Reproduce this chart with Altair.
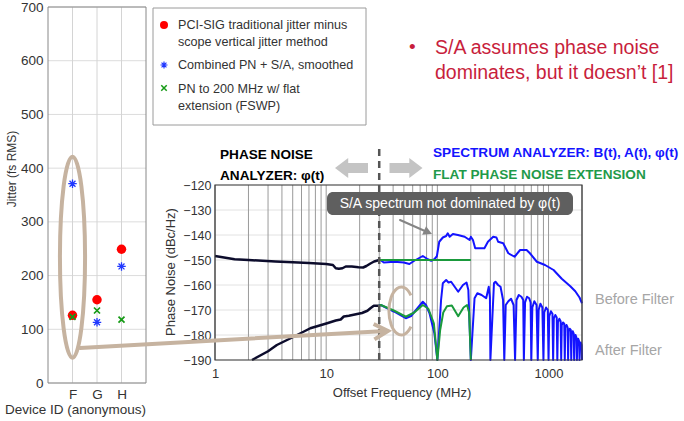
import altair as alt
import pandas as pd

# ---------------- data ----------------
DEVICES = ["F", "G", "H"]
DEVICE_POS = [1, 2, 3]
PCI_SIG_JITTER = [126, 155, 249]
COMBINED_PN_SA = [371, 113, 217]
PN_FLAT_EXT = [123, 135, 118]
JITTER_TICKS = [0, 100, 200, 300, 400, 500, 600, 700]

PN_BEFORE_F = [1, 1.5, 2, 3.5, 5, 7, 10, 11.5, 12.2, 13, 14, 15, 17, 19.5, 21.5, 23, 25, 27, 30]
PN_BEFORE_V = [-148.4, -149.7, -150.0, -150.6, -150.9, -151.2, -151.6, -152.0, -153.3, -153.5,
               -153.3, -152.6, -152.6, -152.9, -153.0, -152.4, -151.4, -150.6, -150.0]

PN_AFTER_F = [2.15, 3, 3.6, 5.1, 7.2, 10.2, 12.2, 13.5, 14.4, 16, 19, 21, 23.5, 25, 26.8, 30]
PN_AFTER_V = [-190, -186.5, -184, -180.7, -177.3, -175.3, -174.2, -173.8, -172.6, -172.3,
              -171.6, -171.2, -170.3, -169.3, -168.3, -168.3]

SA_BEFORE_F = [30, 33, 41, 50, 56, 62, 74, 82, 88, 94,
               99, 104, 112, 120, 124, 129, 138, 153, 176, 195,
               200, 209, 219, 265, 285, 318, 340, 352, 391, 435,
               495, 555, 635, 680, 785, 930, 1110, 1315, 1570, 1740,
               1900, 2000]
SA_BEFORE_V = [-149.7, -151.0, -150.7, -151.0, -151.6, -150.3, -148.4, -149.7, -150.3, -149.7,
               -148.5, -142.7, -141.0, -140.4, -139.3, -140.7, -139.6, -140.0, -140.7, -142.0,
               -140.7, -142.0, -145.3, -145.3, -142.7, -140.7, -141.0, -142.7, -143.3, -147.3,
               -148.7, -146.0, -146.0, -147.3, -150.7, -152.0, -154.0, -157.5, -160.5, -162.5,
               -165.0, -167.3]

SA_AFTER_F = [30, 31, 41, 52, 58, 74, 79, 85, 94, 100,
              108, 112, 120, 126, 133, 154, 170, 183, 190, 200,
              216, 229, 250, 275, 290, 297, 300,
              323, 333, 352, 370, 390, 400,
              412, 435, 460, 485, 500,
              515, 540, 570, 592, 600,
              615, 640, 670, 690, 700,
              715, 745, 780, 800,
              815, 845, 880, 900,
              915, 950, 985, 1000,
              1015, 1050, 1085, 1100,
              1115, 1150, 1185, 1200,
              1215, 1250, 1285, 1300,
              1315, 1350, 1385, 1400,
              1415, 1450, 1485, 1500,
              1515, 1550, 1585, 1600,
              1615, 1650, 1685, 1700,
              1715, 1750, 1785, 1800,
              1815, 1850, 1885, 1900,
              1915, 1950, 1985, 2000]
SA_AFTER_V = [-168.3, -168.0, -170.7, -173.3, -172.4, -166.7, -168.0, -171.3, -179.3, -190,
              -166.0, -159.3, -158.0, -159.0, -158.7, -162.7, -160.0, -159.0, -162.0, -190,
              -165.3, -163.3, -164.0, -165.3, -160.7, -165.0, -190,
              -159.3, -158.7, -160.0, -160.7, -166.0, -190,
              -168.0, -166.5, -165.5, -168.0, -190,
              -166.0, -164.0, -164.7, -166.0, -190,
              -167.0, -164.7, -165.3, -167.0, -190,
              -169.0, -166.5, -168.0, -190,
              -170.0, -167.5, -169.0, -190,
              -171.0, -169.0, -170.0, -190,
              -172.5, -170.5, -171.5, -190,
              -173.5, -172.0, -173.0, -190,
              -175.0, -173.5, -174.5, -190,
              -176.0, -175.0, -175.5, -190,
              -177.0, -176.0, -177.0, -190,
              -178.5, -177.5, -178.0, -190,
              -179.5, -178.5, -179.5, -190,
              -181.0, -180.0, -181.0, -190,
              -182.0, -181.5, -182.5, -190,
              -183.5, -183.0, -184.0, -190]

FLAT_BEFORE_F = [30, 200]
FLAT_BEFORE_V = [-150, -150]
FLAT_AFTER_F = [30, 31, 41, 52, 62, 74, 83, 93, 100, 106, 113, 122, 135, 154, 172, 185, 193, 200]
FLAT_AFTER_V = [-168.3, -168.0, -170.3, -172.7, -171.0, -168.0, -169.5, -175.3, -190, -178.0,
                -171.0, -168.5, -168.2, -172.5, -169.0, -168.0, -171.0, -190]

FREQ_GRID = [1, 2, 3, 4, 5, 6, 7, 8, 9, 10, 20, 30, 40, 50, 60, 70, 80, 90,
             100, 200, 300, 400, 500, 600, 700, 800, 900, 1000, 2000]
FREQ_LABELS = [1, 10, 100, 1000]
PN_TICKS = [-190, -180, -170, -160, -150, -140, -130, -120]
SPLIT_FREQ = 30

# ---------------- styles ----------------
FONT = "Liberation Sans"
TAN = "#c6b3a0"
BLUE = "#1414ff"
GREEN = "#1a9a3c"
DARK = "#0c0c2c"

LX = alt.Scale(domain=[0, 4], range=[48, 146], nice=False, zero=False)
LY = alt.Scale(domain=[0, 700], range=[383, 7], nice=False, zero=False)
RX = alt.Scale(type="log", domain=[1, 2000], range=[215, 582], nice=False)
RY = alt.Scale(domain=[-190, -120], range=[360, 185], nice=False, zero=False)

ONE = pd.DataFrame({"t": [""]})


def txt(s, x, y, size, color="#333333", weight="normal", align="left", angle=0):
    return alt.Chart(pd.DataFrame({"t": [s]})).mark_text(
        align=align, baseline="middle", font=FONT, fontSize=size, color=color,
        fontWeight=weight, angle=angle
    ).encode(x=alt.value(x), y=alt.value(y), text="t:N")


def sym(shape, x, y, size, color, filled, sw=1.0, angle=0):
    return alt.Chart(ONE).mark_point(
        shape=shape, size=size, color=color, filled=filled, strokeWidth=sw,
        opacity=1, angle=angle
    ).encode(x=alt.value(x), y=alt.value(y))


def seg(x1, y1, x2, y2, color, sw, dash=None):
    kw = dict(color=color, strokeWidth=sw, strokeCap="round")
    if dash:
        kw["strokeDash"] = dash
    return alt.Chart(ONE).mark_rule(**kw).encode(
        x=alt.value(x1), y=alt.value(y1), x2=alt.value(x2), y2=alt.value(y2))


ASTERISK = "M -1 0 L 1 0 M 0 -1 L 0 1 M -0.7 -0.7 L 0.7 0.7 M -0.7 0.7 L 0.7 -0.7"
XMARK = "M -1 -1 L 1 1 M -1 1 L 1 -1"
ELLIPSE = "M -0.125 0 A 0.125 1 0 1 0 0.125 0 A 0.125 1 0 1 0 -0.125 0"
CSHAPE = "M 0.395 -0.65 A 0.52 1 0 1 0 0.395 0.65"
LEFT_ARROW = "M -1 0 L -0.2 -0.6 L -0.2 -0.3 L 1 -0.3 L 1 0.3 L -0.2 0.3 L -0.2 0.6 Z"
RIGHT_ARROW = "M 1 0 L 0.2 -0.6 L 0.2 -0.3 L -1 -0.3 L -1 0.3 L 0.2 0.3 L 0.2 0.6 Z"
TRIANGLE = "M 0 0 L -1 -0.55 L -1 0.55 Z"
CHEVRON = "M -1 -0.55 L 0 0 L -1 0.55"

axis_common = dict(grid=False, domain=False, ticks=False, labelFont=FONT, labelColor="#333333",
                   labelFlush=False, labelOverlap=False, title=None)

# ---------------- left chart ----------------
l_hgrid = alt.Chart(pd.DataFrame({"v": JITTER_TICKS, "x0": 0, "x1": 4})).mark_rule(
    color="#dcdcdc", strokeWidth=1).encode(
    x=alt.X("x0:Q", scale=LX, axis=None), x2="x1:Q",
    y=alt.Y("v:Q", scale=LY, axis=alt.Axis(orient="left", offset=-48, values=JITTER_TICKS,
                                            labelPadding=5, labelFontSize=13.5, **axis_common)))

label_expr = "[" + ",".join("'%s'" % d for d in DEVICES) + "][datum.value - 1]"
l_vgrid = alt.Chart(pd.DataFrame({"p": DEVICE_POS, "y0": 0, "y1": 700})).mark_rule(
    color="#d4d4d4", strokeWidth=1).encode(
    x=alt.X("p:Q", scale=LX, axis=alt.Axis(orient="bottom", offset=-38, values=DEVICE_POS,
                                            labelExpr=label_expr, labelPadding=4,
                                            labelFontSize=13.5, **axis_common)),
    y=alt.Y("y0:Q", scale=LY, axis=None), y2="y1:Q")

l_frame = alt.Chart(pd.DataFrame({"x0": [0], "x1": [4], "y0": [0], "y1": [700]})).mark_rect(
    fillOpacity=0, stroke="#888888", strokeWidth=1).encode(
    x=alt.X("x0:Q", scale=LX, axis=None), x2="x1:Q",
    y=alt.Y("y0:Q", scale=LY, axis=None), y2="y1:Q")

pts = pd.DataFrame({"pos": DEVICE_POS, "pci": PCI_SIG_JITTER, "comb": COMBINED_PN_SA,
                    "flat": PN_FLAT_EXT})
lxe = alt.X("pos:Q", scale=LX, axis=None)
red_pts = alt.Chart(pts).mark_point(shape="circle", filled=True, color="#ff0000", size=90,
                                    opacity=1).encode(x=lxe, y=alt.Y("pci:Q", scale=LY, axis=None))
blue_pts = alt.Chart(pts).mark_point(shape=ASTERISK, filled=False, color="#2038ff", size=72,
                                     strokeWidth=1.3, opacity=1).encode(
    x=lxe, y=alt.Y("comb:Q", scale=LY, axis=None))
green_pts = alt.Chart(pts).mark_point(shape=XMARK, filled=False, color="#159a15", size=36,
                                      strokeWidth=1.7, opacity=1).encode(
    x=lxe, y=alt.Y("flat:Q", scale=LY, axis=None))

ellipse = alt.Chart(pd.DataFrame({"x": [1], "y": [234]})).mark_point(
    shape=ELLIPSE, filled=False, size=40401, color=TAN, strokeWidth=4, opacity=1).encode(
    x=alt.X("x:Q", scale=LX, axis=None), y=alt.Y("y:Q", scale=LY, axis=None))

# legend box
legend_box = alt.Chart(ONE).mark_rect(fill="white", stroke="#9a9a9a", strokeWidth=1).encode(
    x=alt.value(153), x2=alt.value(366), y=alt.value(8), y2=alt.value(125))
LEG_FS = 12.6
legend = [
    legend_box,
    sym("circle", 164, 25, 64, "#ff0000", True),
    sym(ASTERISK, 164, 65, 49, "#2038ff", False, 1.2),
    sym(XMARK, 164, 88, 30, "#159a15", False, 1.5),
    txt("PCI-SIG traditional jitter minus", 178, 25, LEG_FS),
    txt("scope vertical jitter method", 178, 42, LEG_FS),
    txt("Combined PN + S/A, smoothed", 178, 65, LEG_FS),
    txt("PN to 200 MHz w/ flat", 178, 89, LEG_FS),
    txt("extension (FSWP)", 178, 106, LEG_FS),
]

RED_TXT = "#c81e3c"
bullet = [
    txt("•", 409, 47, 19, RED_TXT),
    txt("S/A assumes phase noise", 435, 48, 19.5, RED_TXT),
    txt("dominates, but it doesn\u2019t [1]", 435, 73, 19.5, RED_TXT),
]

# ---------------- right chart ----------------
r_hgrid = alt.Chart(pd.DataFrame({"v": PN_TICKS, "x0": 1, "x1": 2000})).mark_rule(
    color="#e2e2e2", strokeWidth=1).encode(
    x=alt.X("x0:Q", scale=RX, axis=None), x2="x1:Q",
    y=alt.Y("v:Q", scale=RY, axis=alt.Axis(orient="left", offset=-215, values=PN_TICKS,
                                            labelPadding=4, labelFontSize=12.5, **axis_common)))

r_vgrid = alt.Chart(pd.DataFrame({"f": FREQ_GRID, "y0": -190, "y1": -120})).mark_rule(
    color="#9a9a9a", strokeWidth=1).encode(
    x=alt.X("f:Q", scale=RX, axis=alt.Axis(orient="bottom", offset=-61, values=FREQ_LABELS,
                                            format="d", labelPadding=7, labelFontSize=13,
                                            **axis_common)),
    y=alt.Y("y0:Q", scale=RY, axis=None), y2="y1:Q")

r_frame = alt.Chart(pd.DataFrame({"x0": [1], "x1": [2000], "y0": [-190], "y1": [-120]})).mark_rect(
    fillOpacity=0, stroke="#3a3a3a", strokeWidth=1.2).encode(
    x=alt.X("x0:Q", scale=RX, axis=None), x2="x1:Q",
    y=alt.Y("y0:Q", scale=RY, axis=None), y2="y1:Q")


def curve(F, V, color, width):
    return alt.Chart(pd.DataFrame({"f": F, "v": V})).mark_line(
        color=color, strokeWidth=width, strokeJoin="round").encode(
        x=alt.X("f:Q", scale=RX, axis=None), y=alt.Y("v:Q", scale=RY, axis=None))


curves = [
    curve(SA_BEFORE_F, SA_BEFORE_V, BLUE, 2),
    curve(SA_AFTER_F, SA_AFTER_V, BLUE, 2),
    curve(FLAT_BEFORE_F, FLAT_BEFORE_V, GREEN, 2),
    curve(FLAT_AFTER_F, FLAT_AFTER_V, GREEN, 2),
    curve(PN_BEFORE_F, PN_BEFORE_V, DARK, 2.5),
    curve(PN_AFTER_F, PN_AFTER_V, DARK, 2.5),
]

split = alt.Chart(pd.DataFrame({"f": [SPLIT_FREQ], "y0": [-190], "y1": [-105.2]})).mark_rule(
    color="#555555", strokeWidth=2.5, strokeDash=[7, 5]).encode(
    x=alt.X("f:Q", scale=RX, axis=None),
    y=alt.Y("y0:Q", scale=RY, axis=None), y2="y1:Q")

cshape = alt.Chart(pd.DataFrame({"f": [47.5], "v": [-170.4]})).mark_point(
    shape=CSHAPE, filled=False, size=2304, color=TAN, strokeWidth=3, opacity=1).encode(
    x=alt.X("f:Q", scale=RX, axis=None), y=alt.Y("v:Q", scale=RY, axis=None))

annot = [
    txt("PHASE NOISE", 220, 155, 13.6, "#000000", "bold"),
    txt("ANALYZER: \u03c6(t)", 220, 176, 13.6, "#000000", "bold"),
    txt("SPECTRUM ANALYZER: B(t), A(t), \u03c6(t)", 433, 153, 13.6, BLUE, "bold"),
    txt("FLAT PHASE NOISE EXTENSION", 433, 175, 13.6, "#1f9a4a", "bold"),
    sym(LEFT_ARROW, 351.5, 168, 1089, "#c4c4c4", True),
    sym(RIGHT_ARROW, 406, 168, 1089, "#c4c4c4", True),
    alt.Chart(ONE).mark_rect(color="#5f5f5f", cornerRadius=6).encode(
        x=alt.value(327), x2=alt.value(573), y=alt.value(192), y2=alt.value(215)),
    txt("S/A spectrum not dominated by \u03c6(t)", 450, 204, 14, "#ffffff", align="center"),
    seg(400, 220, 426, 231.5, "#858585", 2),
    sym(TRIANGLE, 432, 234, 300, "#858585", True, angle=24),
    cshape,
    seg(80, 348, 386, 331, TAN, 4),
    sym(CHEVRON, 388, 331, 784, TAN, False, 4, angle=357),
    txt("Before Filter", 595, 300, 14.5, "#a6a6a6"),
    txt("After Filter", 595, 351, 14.5, "#a6a6a6"),
    txt("Jitter (fs RMS)", 12, 169, 12, "#333333", align="center", angle=270),
    txt("Device ID (anonymous)", 75.5, 410, 13.5, "#333333", align="center"),
    txt("Phase Noise (dBc/Hz)", 171, 272, 13, "#333333", align="center", angle=270),
    txt("Offset Frequency (MHz)", 402, 393, 13, "#333333", align="center"),
]

layers = [l_hgrid, l_vgrid, l_frame, red_pts, blue_pts, green_pts, ellipse] + legend + bullet + \
         [r_hgrid, r_vgrid] + curves + [r_frame, split] + annot

chart = alt.layer(*layers).resolve_scale(x="independent", y="independent").properties(
    width=684, height=421, autosize=alt.AutoSizeParams(type="none"), padding=0
).configure_view(strokeWidth=0)

chart.save("out.html", embed_options={"renderer": "svg", "actions": False})
